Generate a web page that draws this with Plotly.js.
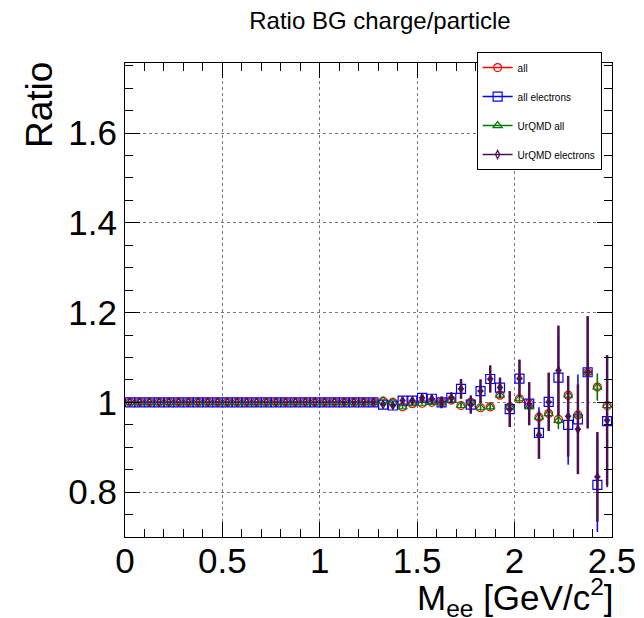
<!DOCTYPE html>
<html>
<head>
<meta charset="utf-8">
<script src="https://cdn.plot.ly/plotly-3.0.1.min.js"></script>
<style>
  html, body { margin: 0; padding: 0; background: #fff; }
  #chart { width: 644px; height: 618px; }
</style>
</head>
<body>
<div id="chart"></div>
<script>
// Bin centres of M_ee [GeV/c^2]
const massBins = [0.025,0.075,0.125,0.175,0.225,0.275,0.325,0.375,0.425,0.475,
  0.525,0.575,0.625,0.675,0.725,0.775,0.825,0.875,0.925,0.975,
  1.025,1.075,1.125,1.175,1.225,1.275,1.325,1.375,1.425,1.475,
  1.525,1.575,1.625,1.675,1.725,1.775,1.825,1.875,1.925,1.975,
  2.025,2.075,2.125,2.175,2.225,2.275,2.325,2.375,2.425,2.475];

// "all" (red circles)
const ratioAll = [1,1,1,1,1,1,1,1,1,1,
  1,1,1,1,1,1,1,1,1,1,
  1,1,1,1,1,1,1.003,1.0,0.99,0.997,
  0.998,1.0,1.0,1.005,0.993,1.0,0.988,0.99,1.016,0.99,
  1.008,0.997,0.967,0.975,0.962,1.016,0.972,1.067,1.034,0.993];
const errAll = [0.001,0.001,0.001,0.001,0.001,0.001,0.001,0.001,0.001,0.001,
  0.001,0.001,0.001,0.001,0.001,0.001,0.001,0.001,0.001,0.001,
  0.001,0.001,0.001,0.001,0.002,0.002,0.003,0.003,0.003,0.003,
  0.003,0.004,0.004,0.004,0.006,0.006,0.006,0.007,0.007,0.008,
  0.01,0.01,0.012,0.02,0.02,0.02,0.02,0.025,0.03,0.025];

// "all electrons" (blue squares)
const ratioElectrons = [1,1,1,1,1,1,1,1,1,1,
  1,1,1,1,1,1,1,1,1,1,
  1,1,1,1,1,1,0.995,0.993,1.004,1.004,
  1.01,1.008,1.0,1.01,1.03,0.995,1.025,1.052,1.033,0.985,
  1.053,0.997,0.932,1.001,1.055,0.95,0.962,1.067,0.816,0.958];
const errElectrons = [0.002,0.002,0.002,0.002,0.002,0.002,0.002,0.002,0.002,0.002,
  0.002,0.002,0.002,0.002,0.002,0.002,0.002,0.002,0.002,0.002,
  0.002,0.002,0.003,0.003,0.003,0.004,0.004,0.005,0.006,0.007,
  0.008,0.009,0.013,0.012,0.022,0.02,0.026,0.03,0.022,0.04,
  0.042,0.048,0.057,0.065,0.095,0.089,0.1,0.125,0.105,0.147];

// "UrQMD all" (green triangles)
const ratioUrqmdAll = [1,1,1,1,1,1,1,1,1,1,
  1,1,1,1,1,1,1,1,1,1,
  1,1,1,1,1,1,1.003,1.0,0.99,0.997,
  0.998,1.0,1.0,1.005,0.993,1.0,0.988,0.99,1.016,0.99,
  1.008,0.99,0.967,0.975,0.96,1.016,0.972,1.067,1.034,0.993];
const errUrqmdAll = errAll;

// "UrQMD electrons" (purple)
const ratioUrqmdElectrons = [1,1,1,1,1,1,1,1,1,1,
  1,1,1,1,1,1,1,1,1,1,
  1,1,1,1,1,1,0.995,0.993,1.004,1.004,
  1.01,1.008,1.0,1.01,1.03,0.995,1.025,1.052,1.033,0.985,
  1.053,0.997,0.927,1.001,1.071,0.969,0.94,1.067,0.834,0.96];
const errUrqmdElectrons = [0.002,0.002,0.002,0.002,0.002,0.002,0.002,0.002,0.002,0.002,
  0.002,0.002,0.002,0.002,0.002,0.002,0.002,0.002,0.002,0.002,
  0.002,0.002,0.003,0.003,0.003,0.004,0.004,0.005,0.006,0.007,
  0.008,0.009,0.013,0.012,0.022,0.02,0.026,0.03,0.022,0.04,
  0.042,0.048,0.053,0.065,0.1,0.09,0.1,0.125,0.1,0.145];

const seriesNames = ['all', 'all electrons', 'UrQMD all', 'UrQMD electrons'];
const yTickVals = [0.8, 1, 1.2, 1.4, 1.6];
const yTickText = ['0.8', '1', '1.2', '1.4', '1.6'];
const xTickVals = [0, 0.5, 1, 1.5, 2, 2.5];
const xTickText = ['0', '0.5', '1', '1.5', '2', '2.5'];

const FONT = 'Liberation Sans, Arial, Helvetica, sans-serif';
const colors = ['#ff0000', '#0000ff', '#007a00', '#4a1050'];
const symbols = ['circle-open', 'square-open', 'triangle-up-open', 'diamond-tall-open'];
const ys = [ratioAll, ratioElectrons, ratioUrqmdAll, ratioUrqmdElectrons];
const errs = [errAll, errElectrons, errUrqmdAll, errUrqmdElectrons];
const sizes = [8, 9, 8, 6];
const thick = [1.2, 1.5, 1.5, 2.5];

const traces = [];
for (let i = 0; i < 4; i++) {
  traces.push({
    type: 'scatter', mode: 'markers', x: massBins, y: ys[i],
    showlegend: false,
    marker: {symbol: symbols[i], size: sizes[i], color: colors[i], line: {color: colors[i], width: 1.2}},
    error_y: {type: 'data', array: errs[i], visible: true, color: colors[i], thickness: thick[i], width: 0},
    error_x: i === 3 ? {type: 'constant', value: 0.016, visible: true, color: colors[i], thickness: 1.5, width: 0} : {visible: false},
    cliponaxis: true
  });
}
// legend entries (line + marker, like ROOT "lep")
for (let i = 0; i < 4; i++) {
  traces.push({
    type: 'scatter', mode: 'lines+markers', x: [null], y: [null],
    name: seriesNames[i], legendgroup: 'g' + i, showlegend: true,
    line: {color: colors[i], width: 1.5},
    marker: {symbol: symbols[i], size: sizes[i], color: colors[i], line: {color: colors[i], width: 1.2}}
  });
}

const axisCommon = {
  showline: true, linecolor: '#000', linewidth: 1, mirror: 'ticks',
  ticks: 'inside', ticklen: 15, tickwidth: 1, tickcolor: '#000',
  showgrid: true, gridcolor: '#777', griddash: 'dot', gridwidth: 1,
  zeroline: false,
  tickfont: {family: FONT, size: 35, color: '#000'},
  tickmode: 'array'
};

const layout = {
  width: 644, height: 618,
  margin: {l: 125, r: 32, t: 63, b: 81},
  paper_bgcolor: '#fff', plot_bgcolor: '#fff',
  font: {family: FONT, color: '#000'},
  title: {text: 'Ratio BG charge/particle', font: {family: FONT, size: 24, color: '#000'},
          x: 0.59, xanchor: 'center', y: 0.967, yanchor: 'middle'},
  xaxis: Object.assign({}, axisCommon, {
    range: [0, 2.5], tickvals: xTickVals, ticktext: xTickText, ticklabelstandoff: -7,
    minor: {dtick: 0.1, tick0: 0, ticks: 'inside', ticklen: 8, tickcolor: '#000', showgrid: false}
  }),
  yaxis: Object.assign({}, axisCommon, {
    range: [0.7, 1.756], tickvals: yTickVals, ticktext: yTickText,
    minor: {dtick: 0.05, tick0: 0.7, ticks: 'inside', ticklen: 8, tickcolor: '#000', showgrid: false}
  }),
  showlegend: true,
  legend: {
    x: 0.722, xanchor: 'left', y: 1.023, yanchor: 'top',
    bgcolor: '#fff', bordercolor: '#000', borderwidth: 1,
    font: {family: FONT, size: 10, color: '#000'},
    tracegroupgap: 10, traceorder: 'grouped', itemwidth: 30
  },
  annotations: [
    {text: 'M<sub>ee</sub> [GeV/c<sup>2</sup>]', xref: 'paper', yref: 'paper',
     x: 1.008, xanchor: 'right', y: -0.127, yanchor: 'middle', showarrow: false,
     font: {family: FONT, size: 35, color: '#000'}},
    {text: 'Ratio', xref: 'paper', yref: 'paper', textangle: -90,
     x: -0.176, xanchor: 'center', y: 0.912, yanchor: 'middle', showarrow: false,
     font: {family: FONT, size: 37, color: '#000'}}
  ]
};

Plotly.newPlot('chart', traces, layout, {displayModeBar: false, staticPlot: true});
</script>
</body>
</html>
